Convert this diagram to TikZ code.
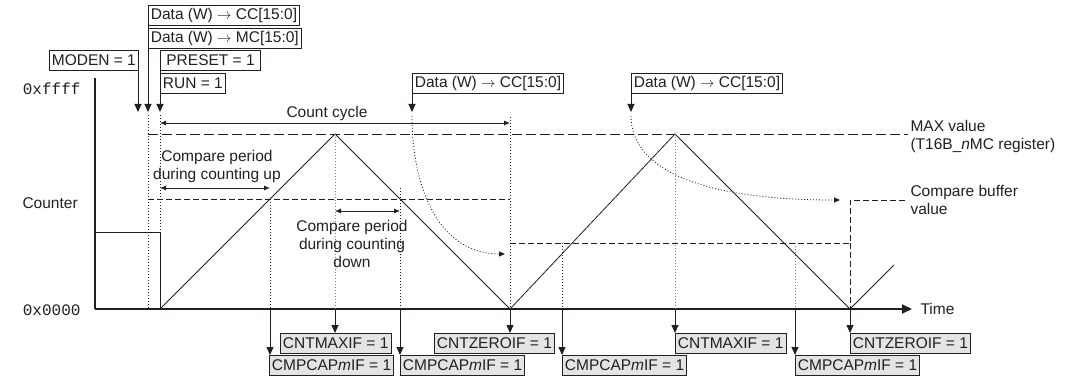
\documentclass[tikz,border=0pt]{standalone}
\usepackage{fontspec}
\setmainfont{Liberation Sans}
\setmonofont{Liberation Mono}
\usetikzlibrary{arrows.meta,positioning,calc}
\definecolor{FlagGray}{HTML}{E4E4E4}
\definecolor{Ink}{HTML}{231F20}
\definecolor{GuideGray}{HTML}{808080}

\begin{document}
\begin{tikzpicture}[x=1pt,y=-1pt, every node/.style={font=\fontsize{15.5}{18}\selectfont,text=Ink}, reg/.style={draw=Ink,line width=0.8pt,inner xsep=2.5pt,inner ysep=0pt,minimum height=20pt,anchor=north west}, flag/.style={reg,fill=FlagGray}, trig/.style={-{Triangle[length=8pt,width=7pt]},line width=0.9pt,Ink}, spanarr/.style={{Latex[length=6pt,width=5pt]}-{Latex[length=6pt,width=5pt]},line width=0.8pt,Ink}, guide/.style={dash pattern=on 1pt off 2pt,line width=0.8pt,Ink}, guidegray/.style={dash pattern=on 1pt off 2pt,line width=0.8pt,GuideGray}, maxdash/.style={dash pattern=on 10pt off 4pt,line width=0.8pt,Ink}, cmpdash/.style={dash pattern=on 6pt off 3pt,line width=0.8pt,Ink}]
\useasboundingbox (0,0) rectangle (1084,377);
% key points
\coordinate (O) at (95,309);
\coordinate (ytop) at (95,78);
\coordinate (xend) at (912,309);
\coordinate (s0) at (160,309);
\coordinate (p1) at (335,134);
\coordinate (z1) at (510,309);
\coordinate (p2) at (675,134);
\coordinate (z2) at (850,309);
\coordinate (tail) at (894,265);
\coordinate (tMod) at (138,112);
\coordinate (tData) at (148,112);
\coordinate (tRun) at (160,112);
\coordinate (c1) at (270,199);
\coordinate (c2) at (400,188);
\coordinate (c3) at (562,243);
\coordinate (c4) at (795,243);
% axes and labels
\draw[line width=1.8pt,Ink] (ytop) -- (O);
\draw[line width=1.8pt,Ink,-{Triangle[length=10pt,width=9pt]}] (O) -- (xend);
\node[anchor=east,font=\fontsize{16}{18}\ttfamily] (ymax) at (84,89) {0xffff};
\node[anchor=east,font=\fontsize{16}{18}\ttfamily] (ymin) at (84,310) {0x0000};
\node[anchor=west] (ylab) at (19,203) {Counter};
\node[anchor=west] (xlab) at (917,309) {Time};
\node[anchor=west,align=left] (maxlab) at (907,136) {MAX value\\(T16B\_\textit{n}MC register)};
\node[anchor=west,align=left] (cmplab) at (907,200) {Compare buffer\\value};
% register writes
\node[reg] (moden) at (49,50) {MODEN = 1};
\node[reg] (wcc) at (148,5) {Data (W) $\rightarrow$ CC[15:0]};
\node[reg] (wmc) at (148,28) {Data (W) $\rightarrow$ MC[15:0]};
\node[reg,inner xsep=6pt] (preset) at (160,50) {PRESET = 1};
\node[reg] (run) at (160,73) {RUN = 1};
\node[reg] (wcc2) at (412,73) {Data (W) $\rightarrow$ CC[15:0]};
\node[reg] (wcc3) at (631,73) {Data (W) $\rightarrow$ CC[15:0]};
\draw[trig] (moden.north east -| tMod) -- (tMod);
\draw[trig] (wcc.north west) -- (tData);
\draw[trig] (preset.north west) -- (tRun);
\draw[trig] (wcc2.north west) -- ++(0,39) coordinate (tW2);
\draw[trig] (wcc3.north west) -- ++(0,39) coordinate (tW3);
% counter
\draw[line width=0.8pt,Ink] (95,232) -- (160,232) -- (s0);
\draw[line width=0.8pt,Ink] (s0) -- (p1) -- (z1) -- (p2) -- (z2) -- (tail);
\draw[maxdash] (148,134) -- (908,134);
\draw[cmpdash] (148,199) -- (z1 |- c1);
\draw[cmpdash] (z1 |- c3) -- (z2 |- c3) -- (850,200) -- (908,200);
\draw[cmpdash] (z2 |- c3) -- (z2);
% guides
\draw[guide] ($(tData)+(0,3)$) -- (tData |- O);
\draw[guide] ($(tRun)+(0,3)$) -- (s0);
\draw[guide] (510,117) -- (z1);
\draw[guide] (c1) -- (c1 |- O);
\draw[guide] (c2) -- (c2 |- O);
\draw[guide] (c3) -- (c3 |- O);
\draw[guidegray] (p1) -- (p1 |- O);
\draw[guidegray] (p2) -- (p2 |- O);
\draw[guidegray] (c4) -- (c4 |- O);
\draw[guide,-{Triangle[length=6pt,width=5pt]}] ($(tW2)+(0,4)$) .. controls (412,190) and (440,254) .. (505,254);
\draw[guide,-{Triangle[length=6pt,width=5pt]}] ($(tW3)+(0,4)$) .. controls (631,160) and (680,200) .. (840,200);
% periods
\draw[spanarr] ($(tRun)+(0,11)$) -- (z1 |- 0,123);
\node (cyc) at (327,113) {Count cycle};
\draw[spanarr] (tRun |- 0,188) -- (c1 |- 0,188);
\node[align=center] (uplab) at (217,166) {Compare period\\during counting up};
\draw[spanarr] (p1 |- 0,211) -- (c2 |- 0,211);
\node[align=center] (dnlab) at (352,244) {Compare period\\during counting\\down};
% flags
\node[flag] (cmp1) at (269,355) {CMPCAP\textit{m}IF = 1};
\node[flag] (max1) at (280,333) {CNTMAXIF = 1};
\node[flag] (cmp2) at (400,355) {CMPCAP\textit{m}IF = 1};
\node[flag] (zero1) at (434,333) {CNTZEROIF = 1};
\node[flag] (cmp3) at (562,355) {CMPCAP\textit{m}IF = 1};
\node[flag] (max2) at (675,333) {CNTMAXIF = 1};
\node[flag] (cmp4) at (795,355) {CMPCAP\textit{m}IF = 1};
\node[flag] (zero2) at (850,333) {CNTZEROIF = 1};
\draw[trig] (c1 |- O) -- (c1 |- cmp1.north);
\draw[trig] (p1 |- O) -- (p1 |- max1.north);
\draw[trig] (c2 |- O) -- (c2 |- cmp2.north);
\draw[trig] (z1) -- (z1 |- zero1.north);
\draw[trig] (c3 |- O) -- (c3 |- cmp3.north);
\draw[trig] (p2 |- O) -- (p2 |- max2.north);
\draw[trig] (c4 |- O) -- (c4 |- cmp4.north);
\draw[trig] (z2) -- (z2 |- zero2.north);
\end{tikzpicture}
\end{document}
